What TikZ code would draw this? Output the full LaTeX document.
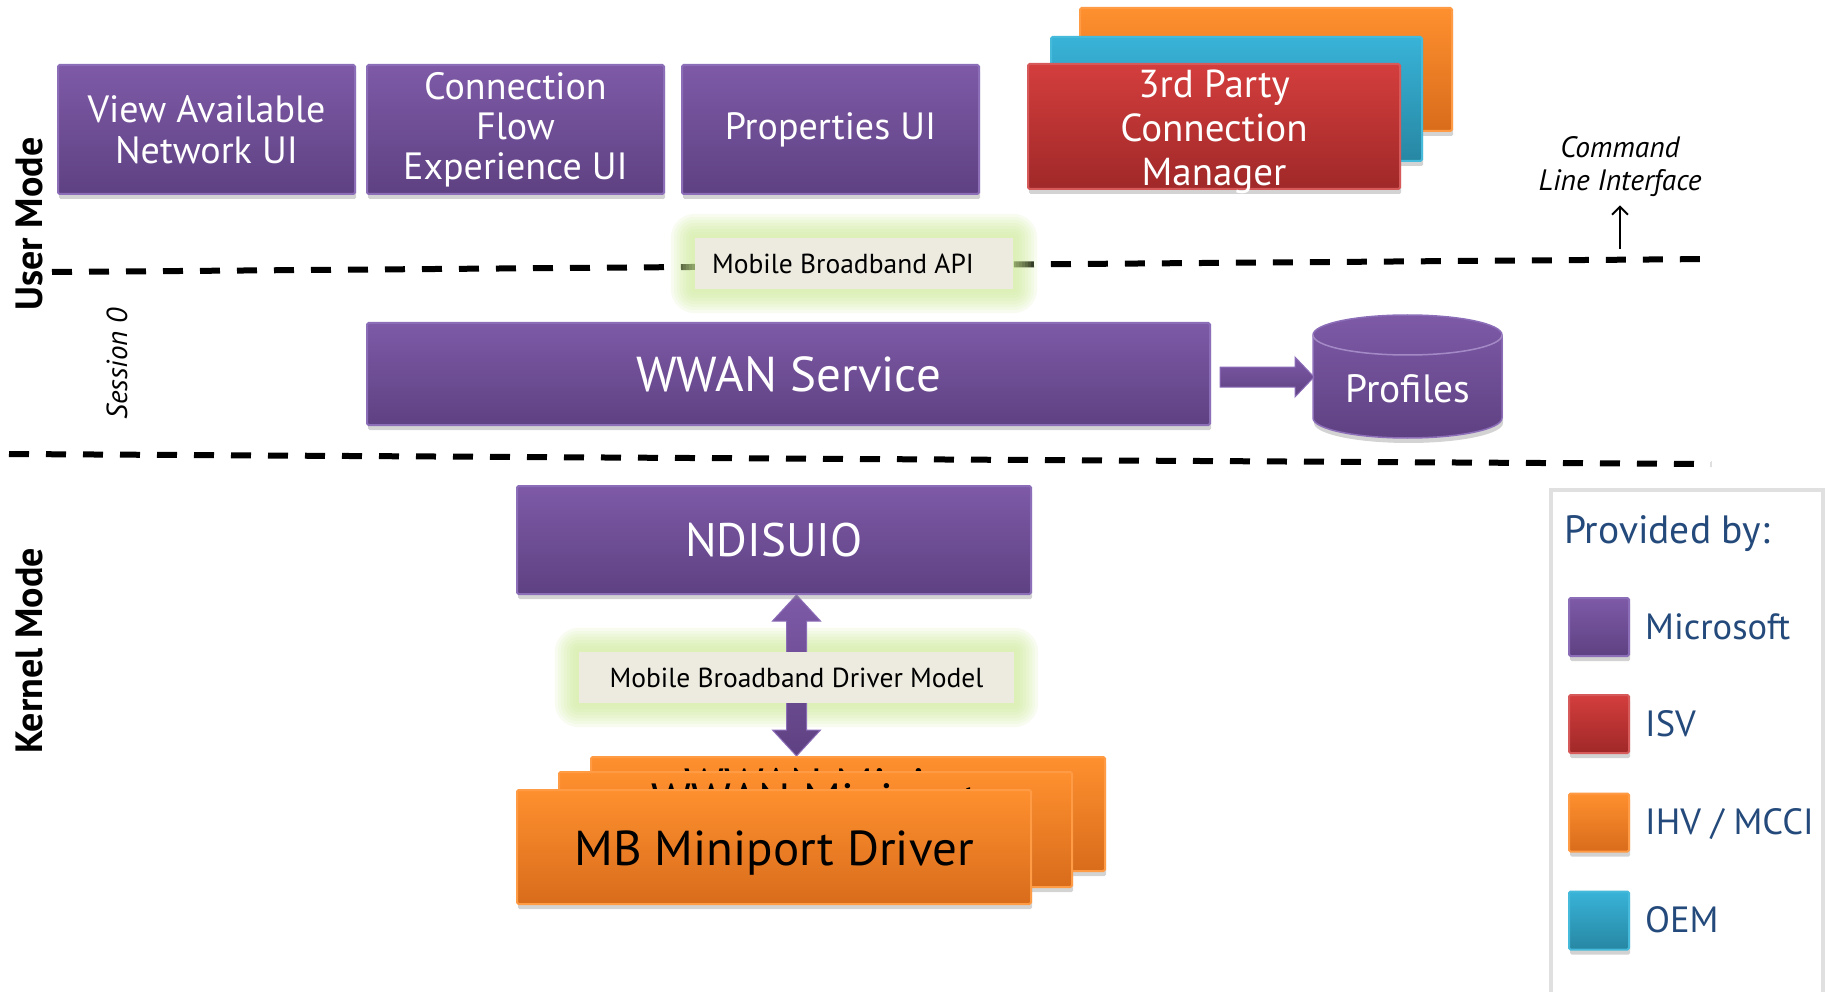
\documentclass[tikz,border=0pt]{standalone}
\usepackage{fontspec}
\setmainfont{PT Sans}
\usetikzlibrary{shadows,backgrounds,calc,arrows.meta}

\newcommand\setfs[2]{\fontsize{#1}{#2}\selectfont}

% provider colours
\definecolor{mstop}{HTML}{7E5AA7}
\definecolor{msbot}{HTML}{5E4182}
\definecolor{msedge}{HTML}{8C6DB8}
\definecolor{isvtop}{HTML}{D33E3D}
\definecolor{isvbot}{HTML}{A02828}
\definecolor{isvedge}{HTML}{D65A5A}
\definecolor{ihvtop}{HTML}{FF902F}
\definecolor{ihvbot}{HTML}{D86C1B}
\definecolor{ihvedge}{HTML}{FF9A45}
\definecolor{oemtop}{HTML}{38B3D8}
\definecolor{oembot}{HTML}{2787A3}
\definecolor{oemedge}{HTML}{45BADA}
\definecolor{apifill}{HTML}{EDEBE0}
\definecolor{glowgreen}{HTML}{CDEA98}
\definecolor{legendtext}{HTML}{244A7C}
\definecolor{arrowmid}{HTML}{80806B}

\tikzset{
  card/.style={rectangle, rounded corners=1.5pt, inner sep=0pt, align=center,
    line width=2pt, drop shadow={opacity=0.35, shadow xshift=1pt, shadow yshift=-5pt}},
  msbox/.style={card, draw=msedge, top color=mstop, bottom color=msbot, text=white},
  isvbox/.style={card, draw=isvedge, top color=isvtop, bottom color=isvbot, text=white},
  ihvbox/.style={card, draw=ihvedge, top color=ihvtop, bottom color=ihvbot, text=black},
  oembox/.style={card, draw=oemedge, top color=oemtop, bottom color=oembot, text=white},
  apibox/.style={rectangle, fill=apifill, inner sep=0pt, text=black, font=\setfs{27.5}{30}},
  legsq/.style={minimum width=60pt, minimum height=58pt},
  legtxt/.style={anchor=base west, text=legendtext, inner sep=0pt, font=\setfs{36.5}{40}},
  modelabel/.style={rotate=90, inner sep=0pt, font=\bfseries\setfs{38}{40}},
  dashline/.style={line width=6pt, dash pattern=on 20pt off 17pt},
  blockarrow/.style={draw=msedge, line width=1pt, top color=mstop, bottom color=msbot},
}

\begin{document}
\begin{tikzpicture}[x=1pt, y=-1pt]
\useasboundingbox (0,0) rectangle (1829,992);

% ---------- user mode applications ----------
\node[msbox, minimum width=297pt, minimum height=129pt, font=\setfs{38}{41}]
  (view) at (206.5,129.5) {View Available\\Network UI};
\node[msbox, minimum width=297pt, minimum height=129pt, font=\setfs{38}{40}]
  (flow) at (515.5,129.5) {Connection\\Flow\\Experience UI};
\node[msbox, minimum width=297pt, minimum height=129pt, font=\setfs{38}{41}]
  (props) at (830.5,129.5) {Properties UI};

% stacked third-party connection managers
\node[ihvbox, minimum width=372pt, minimum height=123pt] (cmgrC) at (1266,69.5) {};
\node[oembox, minimum width=371pt, minimum height=124pt] (cmgrB) at (1236.5,99) {};
\node[isvbox, minimum width=372pt, minimum height=125pt] (cmgr) at (1214,126.5) {};
\node[align=center, text=white, inner sep=0pt, font=\setfs{39}{44}]
  (cmgrtxt) at ($(cmgr.center)+(0,5)$) {3rd Party\\Connection\\Manager};

% command line interface
\node[inner sep=0pt, align=center, font=\itshape\setfs{29.5}{33}] (cli) at (1620,167)
  {Command\\Line Interface};
\coordinate (cliroot) at (1620,249);
\draw[line width=2pt, -{Straight Barb[length=8pt,width=16pt]}, shorten >=8pt]
  (cliroot) -- (cli.south);

% ---------- API boundary ----------
\node[apibox, minimum width=318pt, minimum height=51pt] (api) at (854,263.5)
  {Mobile Broadband API\hspace*{22pt}};

% ---------- session 0 ----------
\node[msbox, minimum width=843pt, minimum height=102pt, font=\setfs{49}{50}]
  (wwan) at (788.5,374) {WWAN Service};

% profile store (cylinder)
\path[draw=msedge, line width=1.5pt, top color=mstop, bottom color=msbot,
      drop shadow={opacity=0.35, shadow xshift=1pt, shadow yshift=-5pt}]
  (1313,335) -- (1313,418) arc (180:360:94.5pt and 20pt) -- (1502,335)
  arc (0:180:94.5pt and 20pt) -- cycle;
\draw[msedge!80!white, line width=1.5pt] (1313,335) arc (180:360:94.5pt and 20pt);
\node[text=white, font=\setfs{39.5}{40}] (profiles) at (1408,389) {Profiles};
\coordinate (profw) at (1314,377);

% service writes to profile store
\path[blockarrow]
  ($(wwan.east)+(9,-7)$) -- ($(profw)+(-19,-10)$) -- ($(profw)+(-19,-20)$)
  -- (profw) -- ($(profw)+(-19,20)$) -- ($(profw)+(-19,10)$)
  -- ($(wwan.east)+(9,13)$) -- cycle;

% ---------- kernel mode ----------
\node[msbox, minimum width=514pt, minimum height=108pt, font=\setfs{47}{50}]
  (ndis) at (774,540) {NDISUIO};

% stacked miniport drivers
\node[ihvbox, minimum width=514pt, minimum height=114pt] (mpC) at (848,814) {};
\node[anchor=base, inner sep=0pt, font=\setfs{48}{50}] (mpCtxt)
  at ($(mpC.north)+(0,46)$) {WWAN Miniport};
\node[ihvbox, minimum width=513pt, minimum height=115pt] (mpB) at (815.5,829.5) {};
\node[anchor=base, inner sep=0pt, font=\setfs{48}{50}] (mpBtxt)
  at ($(mpB.north)+(0,46)$) {WWAN Miniport};
\node[ihvbox, minimum width=514pt, minimum height=114pt] (mp) at (774,847) {};
\node[inner sep=0pt, font=\setfs{49}{50}] (mptxt) at ($(mp.center)+(0,6)$)
  {MB Miniport Driver};

\node[apibox, minimum width=435pt, minimum height=51pt] (dm) at (796.5,677.5)
  {Mobile Broadband Driver Model};

% ---------- side labels ----------
\node[modelabel] (usermode) at (29,224) {User Mode};
\node[modelabel] (kernelmode) at (29,651) {Kernel Mode};
\node[rotate=90, inner sep=0pt, font=\itshape\setfs{29}{30}] (session) at (117,364) {Session 0};

% ---------- legend ----------
\node[rectangle, draw=black!12, line width=4pt, fill=white,
      minimum width=272pt, minimum height=504pt] (legend) at (1686.5,742) {};
\node[legtxt, font=\setfs{39.5}{40}] (legtitle) at (1564,543) {Provided by:};
\node[msbox, legsq] (sqms) at (1599,627) {};
\node[isvbox, legsq] (sqisv) at (1599,724) {};
\node[ihvbox, legsq] (sqihv) at (1599,822.5) {};
\node[oembox, legsq] (sqoem) at (1599,920.5) {};
\node[legtxt] (lms) at (1645,639) {Microsoft};
\node[legtxt] (lisv) at (1645,736) {ISV};
\node[legtxt] (lihv) at (1645,834) {IHV / MCCI};
\node[legtxt] (loem) at (1645,932) {OEM};

% ---------- boundaries, glows and the driver-model arrow ----------
\begin{scope}[on background layer]
  \coordinate (ul) at (52,272);
  \coordinate (ur) at (1713,259);
  \coordinate (ll) at (9,454);
  \coordinate (lr) at (1711,464);
  \draw[dashline] (ul) -- (ur);
  \draw[dashline] (ll) -- (lr);
  \foreach \r in {3,6,...,24} {
    \fill[glowgreen, opacity=0.14, rounded corners=\r pt]
      ($(api.north west)+(-\r,-\r)$) rectangle ($(api.south east)+(\r,\r)$);
    \fill[glowgreen, opacity=0.14, rounded corners=\r pt]
      ($(dm.north west)+(-\r,-\r)$) rectangle ($(dm.south east)+(\r,\r)$);
  }
  \coordinate (tA) at (dm.center |- ndis.south);
  \coordinate (tB) at (dm.center |- mpC.north);
  \path[draw=msedge, line width=1pt, top color=mstop, middle color=arrowmid, bottom color=msbot]
    (tA) -- ++(24,26) -- ++(-14,0) -- ($(tB)+(10,-26)$) -- ++(14,0) -- (tB)
    -- ++(-24,-26) -- ++(14,0) -- ($(tA)+(-10,26)$) -- ++(-14,0) -- cycle;
\end{scope}
\end{tikzpicture}
\end{document}
